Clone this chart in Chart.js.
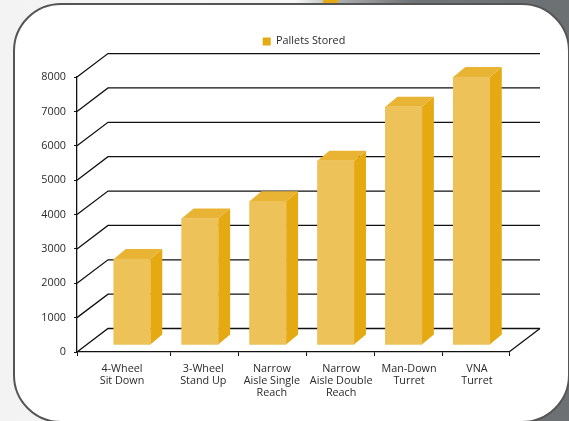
<!DOCTYPE html>
<html>
<head>
<meta charset="utf-8">
<style>
  html, body { margin: 0; padding: 0; width: 569px; height: 421px; overflow: hidden; }
  body { position: relative;
         background: linear-gradient(90deg, rgba(0,0,0,0) 322px, #e5a912 324px, #e5a912 336px, rgba(0,0,0,0) 340px) 0 0 / 100% 3px no-repeat,
                     linear-gradient(90deg, #f3f3f3 0%, #f6f6f6 52%, #a9abac 60%, #727577 72%, #6d7072 100%); }
  #panel { position: absolute; left: 13px; top: 3px; width: 557px; height: 420px; box-sizing: border-box; background: #fff;
           border: 2px solid #555; border-radius: 48px; }
  #wrap { position: absolute; left: 0; top: 0; width: 569px; height: 421px; }
</style>
</head>
<body>
<div id="panel"></div>
<div id="wrap"><canvas id="chart1"></canvas></div>
<script src="https://cdn.jsdelivr.net/npm/chart.js@4"></script>
<script>
var categories = [['4-Wheel', 'Sit Down'], ['3-Wheel', 'Stand Up'], ['Narrow', 'Aisle Single', 'Reach'],
    ['Narrow', 'Aisle Double', 'Reach'], ['Man-Down', 'Turret'], ['VNA', 'Turret']];
var palletsStored = [2500, 3680, 4180, 5360, 6930, 7800];
var yTicks = [0, 1000, 2000, 3000, 4000, 5000, 6000, 7000, 8000];

var frontColor = '#ecc259';
var sideColor = '#e5a912';
var topColor = '#e9b334';

// the x axis is a linear one so the bars can sit off centre from the tick marks, like the original
var xMin = -0.81, xMax = 5.552;
var labelShift = [-0.147, 0.05, 0.06, 0.08, 0.08, 0.08];
var tickMarks = [xMin, 0.574, 1.574, 2.574, 3.574, 4.574, xMax];

var wallDx = 31, wallDy = 23.5; // depth of the back wall
var barDx = 12, barDy = 10;     // depth of a bar
var barLift = 7;                // bars stand in the middle of the floor

var box3d = {
    id: 'box3d',
    afterLayout: function (chart) {
        // legend sits higher and right of centre in the original
        chart.legend.left += 29.5;
        chart.legend.right += 29.5;
        chart.legend.top -= 20.3;
        chart.legend.bottom -= 20.3;
    },
    beforeDatasetsDraw: function (chart) {
        var ctx = chart.ctx, y = chart.scales.y, x = chart.scales.x;
        var left = x.left, right = x.right;
        ctx.save();
        ctx.strokeStyle = '#111';
        ctx.lineWidth = 1.3;
        yTicks.forEach(function (v) {
            var py = y.getPixelForValue(v);
            ctx.beginPath();
            ctx.moveTo(left, py);
            ctx.lineTo(left + wallDx, py - wallDy);
            ctx.lineTo(right + wallDx, py - wallDy);
            ctx.stroke();
        });
        var py0 = y.getPixelForValue(0);
        ctx.beginPath();
        ctx.moveTo(right, py0);
        ctx.lineTo(right + wallDx, py0 - wallDy);
        ctx.stroke();

        chart.getDatasetMeta(0).data.forEach(function (bar) {
            var l = bar.x - bar.width / 2, r = bar.x + bar.width / 2;
            var t = bar.y - barLift, b = bar.base - barLift;
            ctx.fillStyle = sideColor;
            ctx.beginPath();
            ctx.moveTo(r, t);
            ctx.lineTo(r + barDx, t - barDy);
            ctx.lineTo(r + barDx, b - barDy);
            ctx.lineTo(r, b);
            ctx.closePath();
            ctx.fill();
            ctx.fillStyle = topColor;
            ctx.beginPath();
            ctx.moveTo(l, t);
            ctx.lineTo(l + barDx, t - barDy);
            ctx.lineTo(r + barDx, t - barDy);
            ctx.lineTo(r, t);
            ctx.closePath();
            ctx.fill();
        });
        ctx.restore();
        ctx.save();
        ctx.translate(0, -barLift);
    },
    afterDatasetsDraw: function (chart) {
        chart.ctx.restore();
    }
};

var ctx1 = document.getElementById('chart1').getContext('2d');
var chart1 = new Chart(ctx1, {
    type: 'bar',
    data: {
        datasets: [{
            label: 'Pallets Stored',
            data: palletsStored.map(function (v, i) { return { x: i, y: v }; }),
            backgroundColor: frontColor,
            barThickness: 36.5
        }]
    },
    options: {
        responsive: true,
        maintainAspectRatio: false,
        animation: false,
        layout: { padding: { left: 40, right: 60, top: 46.3, bottom: 9 } },
        plugins: {
            tooltip: { enabled: false },
            legend: {
                position: 'top',
                labels: {
                    boxWidth: 8,
                    boxHeight: 8,
                    padding: 10,
                    color: '#2a2a2a',
                    font: { family: 'Open Sans', size: 10.8 },
                    generateLabels: function (chart) {
                        return Chart.defaults.plugins.legend.labels.generateLabels(chart).map(function (item) {
                            item.fillStyle = sideColor;
                            item.lineWidth = 0;
                            return item;
                        });
                    }
                }
            }
        },
        scales: {
            x: {
                type: 'linear',
                min: xMin,
                max: xMax,
                offset: false,
                afterFit: function (s) { s.height = 60; },
                afterBuildTicks: function (s) {
                    var ticks = tickMarks.map(function (v) { return { value: v }; });
                    categories.forEach(function (c, i) { ticks.push({ value: i + labelShift[i], label: c, isLabel: true }); });
                    ticks.sort(function (a, b) { return a.value - b.value; });
                    s.ticks = ticks;
                },
                grid: {
                    offset: false,
                    drawOnChartArea: false,
                    tickLength: 4,
                    tickWidth: 1,
                    tickColor: function (c) { return c.tick && c.tick.isLabel ? 'rgba(0,0,0,0)' : '#111'; }
                },
                border: { color: '#111', width: 1.3 },
                ticks: {
                    autoSkip: false,
                    maxRotation: 0,
                    padding: 7,
                    color: '#2a2a2a',
                    font: { family: 'Open Sans', size: 10.8, lineHeight: 1.11 },
                    callback: function (v, i, ticks) { return ticks[i].label || ''; }
                }
            },
            y: {
                min: 0,
                max: 8000,
                afterFit: function (s) { s.width = 37; },
                afterBuildTicks: function (s) { s.ticks = yTicks.map(function (v) { return { value: v }; }); },
                grid: { drawOnChartArea: false, tickLength: 3, tickColor: '#111' },
                border: { color: '#111', width: 1.3 },
                ticks: {
                    padding: 8,
                    color: '#2a2a2a',
                    font: { family: 'Open Sans', size: 10.8 },
                    callback: function (v) { return String(v); }
                }
            }
        }
    },
    plugins: [box3d]
});
</script>
</body>
</html>
